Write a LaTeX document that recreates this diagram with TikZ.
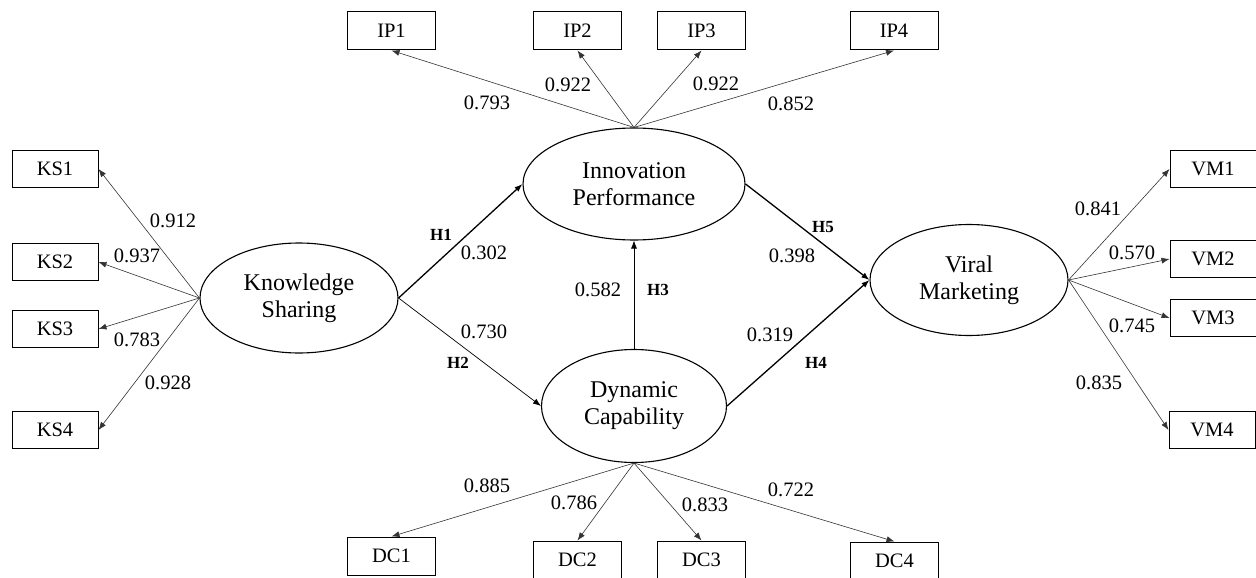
\documentclass[tikz,border=0pt]{standalone}
\usepackage{fontspec}
\setmainfont{Liberation Serif}
\usepackage{tikz}
\usetikzlibrary{arrows.meta,shapes.geometric}

\tikzset{
  latent/.style={ellipse, draw, line width=1.1pt, inner sep=0pt, align=center,
    font=\fontsize{24}{27}\selectfont},
  item/.style={draw, line width=1pt, inner sep=0pt, minimum width=88pt,
    minimum height=38pt, font=\fontsize{20.5}{22}\selectfont},
  load/.style={font=\fontsize{20.5}{22}\selectfont, inner sep=0pt},
  hyp/.style={font=\fontsize{17}{19}\selectfont\bfseries, inner sep=0pt},
  ind/.style={->, line width=0.6pt, black!80},
  path/.style={->, line width=1.3pt},
  thinpath/.style={->, line width=0.7pt},
}

\begin{document}
\begin{tikzpicture}[x=1pt, y=-1pt, >={Latex[length=8pt,width=6pt]}]
  \useasboundingbox (0,0) rectangle (1256,578);

  \node (ks) [latent, minimum width=198pt, minimum height=110pt] at (299,298) {Knowledge\\Sharing};
  \node (ip) [latent, minimum width=222pt, minimum height=112pt] at (634,184) {Innovation\\Performance};
  \node (dc) [latent, minimum width=185pt, minimum height=113pt] at (634,406) {Dynamic\\Capability};
  \node (vm) [latent, minimum width=198pt, minimum height=111pt] at (969,280) {Viral\\Marketing};

  \node (ks1) [item, minimum width=86pt, minimum height=37pt] at (55,169) {KS1};
  \node (ks2) [item, minimum width=86pt, minimum height=37pt] at (55,262) {KS2};
  \node (ks3) [item, minimum width=86pt, minimum height=37pt] at (55,329) {KS3};
  \node (ks4) [item, minimum width=86pt, minimum height=37pt] at (55,430) {KS4};

  \node (ip1) [item] at (391.5,31) {IP1};
  \node (ip2) [item] at (577.5,31) {IP2};
  \node (ip3) [item] at (701.5,31) {IP3};
  \node (ip4) [item] at (894,31) {IP4};

  \node (dc1) [item] at (391.5,556) {DC1};
  \node (dc2) [item] at (577.5,560) {DC2};
  \node (dc3) [item] at (701.5,560) {DC3};
  \node (dc4) [item] at (894.5,561) {DC4};

  \node (vm1) [item, minimum width=86pt, minimum height=37pt] at (1213,169) {VM1};
  \node (vm2) [item, minimum width=86pt, minimum height=37pt] at (1213,259) {VM2};
  \node (vm3) [item, minimum width=86pt, minimum height=37pt] at (1213,318) {VM3};
  \node (vm4) [item, minimum width=86pt, minimum height=37pt] at (1212,430) {VM4};

  \draw[ind] (ks.west) -- (ks1.east);
  \draw[ind] (ks.west) -- (ks2.east);
  \draw[ind] (ks.west) -- (ks3.east);
  \draw[ind] (ks.west) -- (ks4.east);
  \draw[ind] (ip.north) -- (ip1.south);
  \draw[ind] (ip.north) -- (ip2.south);
  \draw[ind] (ip.north) -- (ip3.south);
  \draw[ind] (ip.north) -- (ip4.south);
  \draw[ind] (dc.south) -- (dc1.north);
  \draw[ind] (dc.south) -- (dc2.north);
  \draw[ind] (dc.south) -- (dc3.north);
  \draw[ind] (dc.south) -- (dc4.north);
  \draw[ind] (vm.east) -- (vm1.west);
  \draw[ind] (vm.east) -- (vm2.west);
  \draw[ind] (vm.east) -- (vm3.west);
  \draw[ind] (vm.east) -- (vm4.west);

  \draw[path] (ks.east) -- (ip.west);
  \draw[thinpath] (ks.east) -- (dc.west);
  \draw[thinpath] (dc.north) -- (ip.south);
  \draw[path] (ip.east) -- (vm.west);
  \draw[path] (dc.east) -- (vm.west);

  \node (lks1) [load] at (173,221) {0.912};
  \node (lks2) [load] at (137,256) {0.937};
  \node (lks3) [load] at (137,340) {0.783};
  \node (lks4) [load] at (168,383) {0.928};
  \node (lip1) [load] at (487,103) {0.793};
  \node (lip2) [load] at (568,85) {0.922};
  \node (lip3) [load] at (716,84) {0.922};
  \node (lip4) [load] at (791,104) {0.852};
  \node (ldc1) [load] at (487,486) {0.885};
  \node (ldc2) [load] at (574,503) {0.786};
  \node (ldc3) [load] at (705,505) {0.833};
  \node (ldc4) [load] at (791,490) {0.722};
  \node (lvm1) [load] at (1098,209) {0.841};
  \node (lvm2) [load] at (1132,253) {0.570};
  \node (lvm3) [load] at (1132,326) {0.745};
  \node (lvm4) [load] at (1099,383) {0.835};

  \node (h1) [hyp] at (441,235) {H1};
  \node (b1) [load] at (484,253) {0.302};
  \node (b2) [load] at (484,332) {0.730};
  \node (h2) [hyp] at (458,363) {H2};
  \node (b3) [load] at (598,290) {0.582};
  \node (h3) [hyp] at (658,290) {H3};
  \node (h5) [hyp] at (823,227) {H5};
  \node (b5) [load] at (792,256) {0.398};
  \node (b4) [load] at (770,335) {0.319};
  \node (h4) [hyp] at (816,363) {H4};
\end{tikzpicture}
\end{document}
